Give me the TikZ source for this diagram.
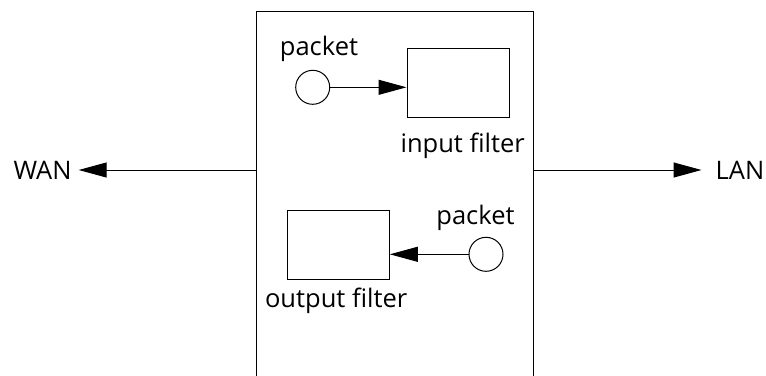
\documentclass[tikz,border=0pt]{standalone}
\usepackage{fontspec}
\setmainfont{Open Sans}
\usetikzlibrary{arrows.meta}
\tikzset{
  ln/.style={line width=1pt, draw=black},
  arr/.style={ln, -{Triangle[length=28pt,width=15pt]}},
  pkt/.style={circle, ln, minimum size=34pt, inner sep=0pt},
  filt/.style={rectangle, ln, minimum width=102pt, minimum height=69pt, inner sep=0pt},
  lbl/.style={font=\fontsize{25.5}{29}\selectfont, inner sep=0pt}
}
\begin{document}
\begin{tikzpicture}[x=1pt,y=-1pt]
\useasboundingbox (0,0) rectangle (766,375);
% router box (open at the bottom)
\draw[ln] (256,376) -- (256,11) -- (533,11) -- (533,376);
\coordinate (wl) at (256,170);
\coordinate (lr) at (533,170);
% external labels
\node[lbl] (wan) at (42.5,170) {WAN};
\node[lbl] (lan) at (740,170) {LAN};
% upper: input filter
\node[pkt] (p1) at (312.7,87.3) {};
\node[filt] (inf) at (458,82.8) {};
\node[lbl] (p1l) at (319,49) {packet};
\node[lbl] (infl) at (462.7,146) {input filter};
% lower: output filter
\node[filt] (outf) at (338.3,245.3) {};
\node[pkt] (p2) at (486,254.3) {};
\node[lbl] (p2l) at (475.5,218) {packet};
\node[lbl] (outfl) at (336.2,301) {output filter};
% connectors
\draw[arr, shorten >=7pt] (wl) -- (wan.east);
\draw[arr, shorten >=14pt] (lr) -- (lan.west);
\draw[arr] (p1.east) -- (p1.east -| inf.west);
\draw[arr] (p2.west) -- (p2.west -| outf.east);
\end{tikzpicture}
\end{document}
